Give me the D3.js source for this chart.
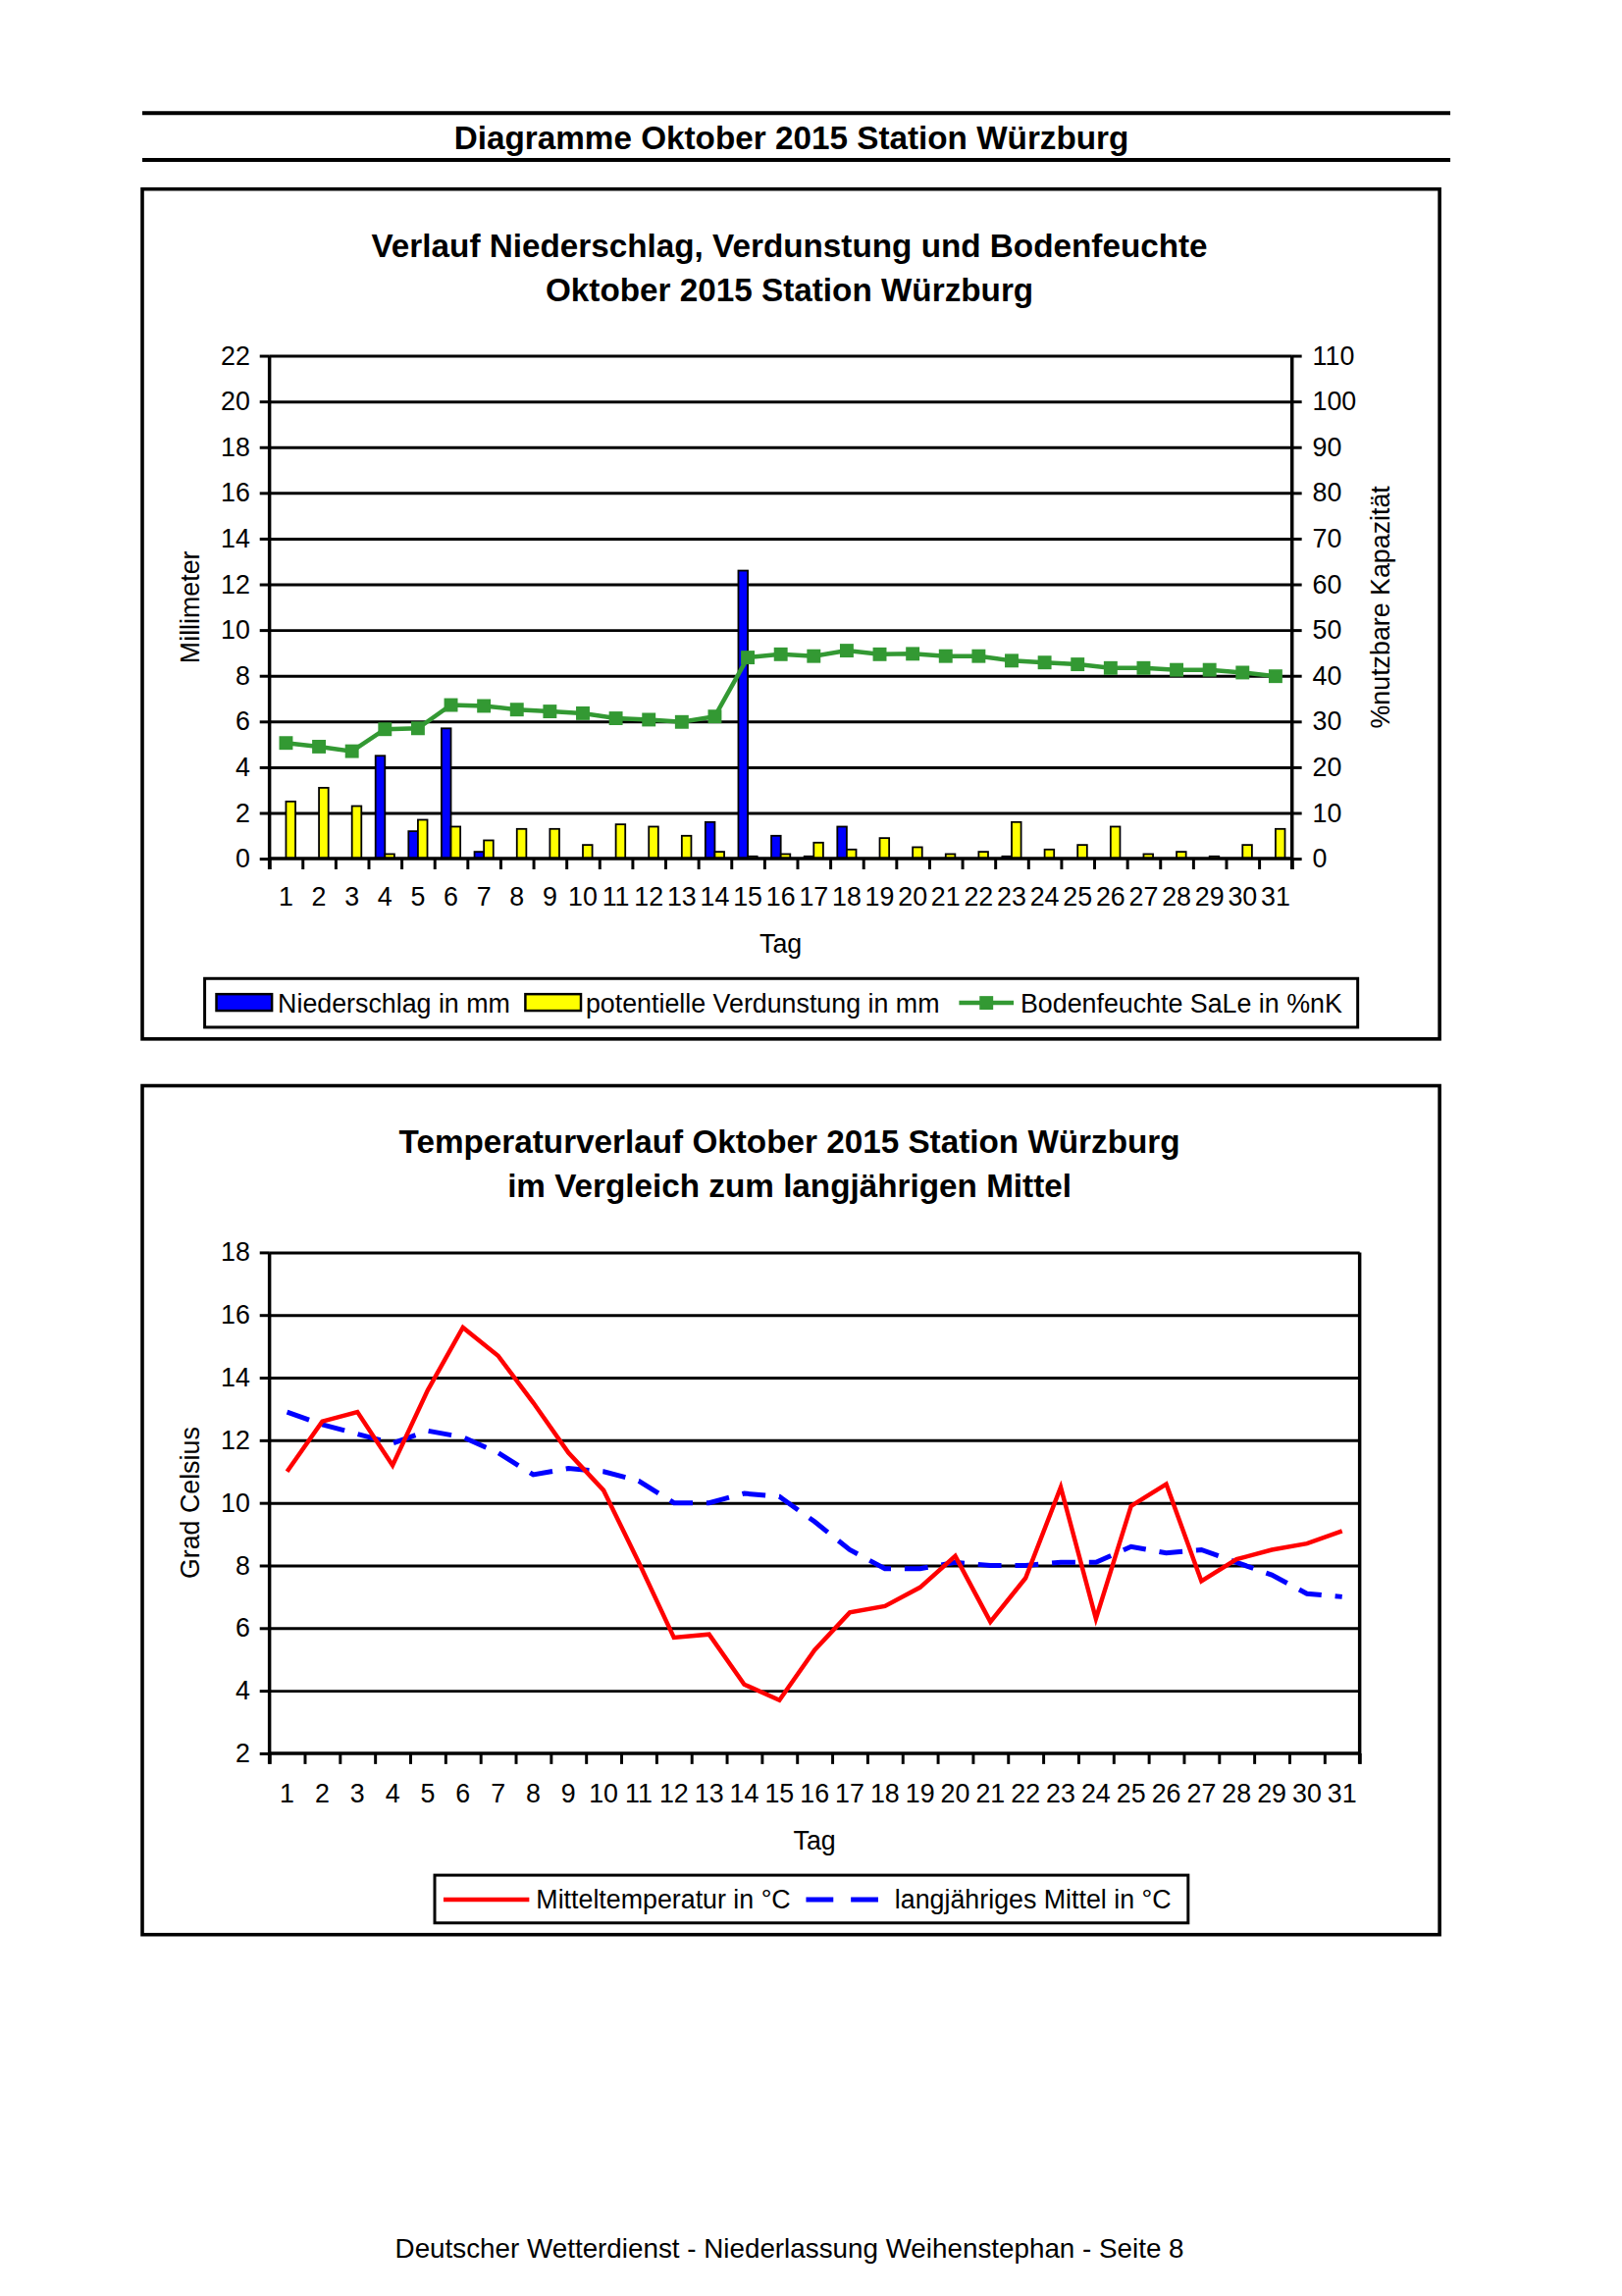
<!DOCTYPE html>
<html>
<head>
<meta charset="utf-8">
<script src="https://cdn.jsdelivr.net/npm/d3@7"></script>
<style>
  body { margin: 0; background: #fff; }
  svg { display: block; }
  text { font-family: "Liberation Sans", Arial, sans-serif; fill: #000; }
</style>
</head>
<body>
<div id="page"></div>
<script>
// Daten Oktober 2015, Station Würzburg
const days = [1,2,3,4,5,6,7,8,9,10,11,12,13,14,15,16,17,18,19,20,21,22,23,24,25,26,27,28,29,30,31];
const niederschlag = [0,0,0,4.5,1.2,5.7,0.3,0,0,0,0,0,0,1.6,12.6,1.0,0.1,1.4,0,0,0,0,0.1,0,0,0,0,0,0,0,0];
const verdunstung = [2.5,3.1,2.3,0.2,1.7,1.4,0.8,1.3,1.3,0.6,1.5,1.4,1.0,0.3,0.1,0.2,0.7,0.4,0.9,0.5,0.2,0.3,1.6,0.4,0.6,1.4,0.2,0.3,0.1,0.6,1.3];
const bodenfeuchte = [25.3,24.5,23.5,28.3,28.5,33.6,33.4,32.6,32.2,31.8,30.7,30.4,29.9,31.1,44.0,44.7,44.3,45.5,44.7,44.8,44.3,44.3,43.3,42.9,42.5,41.7,41.7,41.3,41.3,40.7,39.9];
const mitteltemp = [11.0,12.6,12.9,11.2,13.6,15.6,14.7,13.2,11.6,10.4,8.1,5.7,5.8,4.2,3.7,5.3,6.5,6.7,7.3,8.3,6.2,7.6,10.5,6.3,9.9,10.6,7.5,8.2,8.5,8.7,9.1];
const langMittel = [12.9,12.5,12.2,11.9,12.3,12.1,11.6,10.9,11.1,11.0,10.7,10.0,10.0,10.3,10.2,9.4,8.5,7.9,7.9,8.1,8.0,8.0,8.1,8.1,8.6,8.4,8.5,8.1,7.7,7.1,7.0];
const mmTicks = [0,2,4,6,8,10,12,14,16,18,20,22];
const pctTicks = [0,10,20,30,40,50,60,70,80,90,100,110];
const tempTicks = [2,4,6,8,10,12,14,16,18];

const W = 1653, H = 2340;
const FS = 27;
const TFS = 33.5;

const root = d3.select('#page').append('svg').attr('width', W).attr('height', H);
root.append('rect').attr('width', W).attr('height', H).attr('fill', '#fff');
// Seite leicht verkleinert, damit sie auf das Original passt
const svg = root.append('g').attr('transform', 'scale(0.9933)');

// Kopfzeile
svg.append('line').attr('x1', 146).attr('x2', 1488).attr('y1', 116).attr('y2', 116)
  .attr('stroke', '#000').attr('stroke-width', 4);
svg.append('line').attr('x1', 146).attr('x2', 1488).attr('y1', 164).attr('y2', 164)
  .attr('stroke', '#000').attr('stroke-width', 4);
svg.append('text').attr('x', 812).attr('y', 153).attr('text-anchor', 'middle')
  .attr('font-size', TFS).attr('font-weight', 'bold')
  .text('Diagramme Oktober 2015 Station Würzburg');

// Fußzeile
svg.append('text').attr('x', 810).attr('y', 2317).attr('text-anchor', 'middle')
  .attr('font-size', 28).text('Deutscher Wetterdienst - Niederlassung Weihenstephan - Seite 8');

const frame = (y0, y1) => {
  svg.append('rect').attr('x', 146).attr('y', y0).attr('width', 1477 - 146).attr('height', y1 - y0)
    .attr('fill', 'none').attr('stroke', '#000').attr('stroke-width', 3.6);
};

const title = (lines, y) => {
  lines.forEach((t, i) => {
    svg.append('text').attr('x', 810).attr('y', y + i * 45).attr('text-anchor', 'middle')
      .attr('font-size', TFS).attr('font-weight', 'bold').text(t);
  });
};

const styleAxis = (g, w) => {
  g.select('.domain').remove();
  g.selectAll('line').attr('stroke', '#000').attr('stroke-width', w);
  g.selectAll('text').attr('font-size', FS).attr('fill', '#000')
    .attr('font-family', '"Liberation Sans", Arial, sans-serif');
};

// ---------- Diagramm 1 ----------
frame(194, 1066);
title(['Verlauf Niederschlag, Verdunstung und Bodenfeuchte', 'Oktober 2015 Station Würzburg'], 264);

const p1 = { left: 276.5, right: 1325.6, top: 365, bottom: 881 };
const x1 = d3.scaleBand().domain(days).range([p1.left, p1.right]);
const x1lin = d3.scaleLinear().domain([0, days.length]).range([p1.left, p1.right]);
const yL = d3.scaleLinear().domain([0, 22]).range([p1.bottom, p1.top]);
const yR = d3.scaleLinear().domain([0, 110]).range([p1.bottom, p1.top]);
const c1 = svg.append('g');

// Gitternetz
c1.append('g').attr('transform', `translate(${p1.left},0)`)
  .call(d3.axisLeft(yL).tickValues(mmTicks.slice(1)).tickSize(-(p1.right - p1.left)).tickFormat(''))
  .call(g => styleAxis(g, 3));

// Balken
const bw = x1.bandwidth() / 3.5;
c1.append('g').selectAll('rect.n').data(days.filter((d, i) => niederschlag[i] > 0)).enter()
  .append('rect')
  .attr('x', d => x1(d) + x1.bandwidth() / 2 - bw)
  .attr('y', d => yL(niederschlag[d - 1]))
  .attr('width', bw)
  .attr('height', d => p1.bottom - yL(niederschlag[d - 1]))
  .attr('fill', '#0000ff').attr('stroke', '#000').attr('stroke-width', 1.8);
c1.append('g').selectAll('rect.v').data(days.filter((d, i) => verdunstung[i] > 0)).enter()
  .append('rect')
  .attr('x', d => x1(d) + x1.bandwidth() / 2)
  .attr('y', d => yL(verdunstung[d - 1]))
  .attr('width', bw)
  .attr('height', d => p1.bottom - yL(verdunstung[d - 1]))
  .attr('fill', '#ffff00').attr('stroke', '#000').attr('stroke-width', 1.8);

// Achsen
c1.append('g').attr('transform', `translate(${p1.left},0)`)
  .call(d3.axisLeft(yL).tickValues(mmTicks).tickSize(10).tickPadding(10))
  .call(g => styleAxis(g, 3));
c1.append('g').attr('transform', `translate(${p1.right},0)`)
  .call(d3.axisRight(yR).tickValues(pctTicks).tickSize(10).tickPadding(11))
  .call(g => styleAxis(g, 3));
c1.append('g').attr('transform', `translate(0,${p1.bottom})`)
  .call(d3.axisBottom(x1lin).tickValues(d3.range(0, days.length + 1)).tickSize(11).tickFormat(''))
  .call(g => styleAxis(g, 3));
c1.append('g').attr('transform', `translate(0,${p1.bottom})`)
  .call(d3.axisBottom(x1).tickSize(0).tickPadding(29))
  .call(g => styleAxis(g, 0));
c1.append('line').attr('x1', p1.left).attr('x2', p1.left).attr('y1', p1.top).attr('y2', p1.bottom + 11)
  .attr('stroke', '#000').attr('stroke-width', 3.5);
c1.append('line').attr('x1', p1.right).attr('x2', p1.right).attr('y1', p1.top).attr('y2', p1.bottom + 11)
  .attr('stroke', '#000').attr('stroke-width', 3.5);
c1.append('line').attr('x1', p1.left).attr('x2', p1.right).attr('y1', p1.bottom).attr('y2', p1.bottom)
  .attr('stroke', '#000').attr('stroke-width', 3.5);

// Bodenfeuchte
const line1 = d3.line().x(d => x1(d) + x1.bandwidth() / 2).y(d => yR(bodenfeuchte[d - 1]));
c1.append('path').datum(days).attr('d', line1).attr('fill', 'none')
  .attr('stroke', '#339933').attr('stroke-width', 4.5);
c1.append('g').selectAll('rect').data(days).enter().append('rect')
  .attr('x', d => x1(d) + x1.bandwidth() / 2 - 7)
  .attr('y', d => yR(bodenfeuchte[d - 1]) - 7)
  .attr('width', 14).attr('height', 14).attr('fill', '#339933');

// Achsentitel
c1.append('text').attr('transform', `translate(204,${(p1.top + p1.bottom) / 2}) rotate(-90)`)
  .attr('text-anchor', 'middle').attr('font-size', FS).text('Millimeter');
c1.append('text').attr('transform', `translate(1426,${(p1.top + p1.bottom) / 2}) rotate(-90)`)
  .attr('text-anchor', 'middle').attr('font-size', FS).text('%nutzbare Kapazität');
c1.append('text').attr('x', (p1.left + p1.right) / 2).attr('y', 978).attr('text-anchor', 'middle')
  .attr('font-size', FS).text('Tag');

// Legende 1
const lg1 = c1.append('g');
lg1.append('rect').attr('x', 210).attr('y', 1004).attr('width', 1393 - 210).attr('height', 50)
  .attr('fill', '#fff').attr('stroke', '#000').attr('stroke-width', 3);
lg1.append('rect').attr('x', 222).attr('y', 1020).attr('width', 57).attr('height', 17)
  .attr('fill', '#0000ff').attr('stroke', '#000').attr('stroke-width', 2.5);
lg1.append('text').attr('x', 285).attr('y', 1039).attr('font-size', FS).text('Niederschlag in mm');
lg1.append('rect').attr('x', 539).attr('y', 1020).attr('width', 57).attr('height', 17)
  .attr('fill', '#ffff00').attr('stroke', '#000').attr('stroke-width', 2.5);
lg1.append('text').attr('x', 601).attr('y', 1039).attr('font-size', FS).text('potentielle Verdunstung in mm');
lg1.append('line').attr('x1', 984).attr('x2', 1040).attr('y1', 1029).attr('y2', 1029)
  .attr('stroke', '#339933').attr('stroke-width', 4.5);
lg1.append('rect').attr('x', 1005).attr('y', 1022).attr('width', 14).attr('height', 14).attr('fill', '#339933');
lg1.append('text').attr('x', 1047).attr('y', 1039).attr('font-size', FS).text('Bodenfeuchte SaLe in %nK');

// ---------- Diagramm 2 ----------
frame(1114, 1985);
title(['Temperaturverlauf Oktober 2015 Station Würzburg', 'im Vergleich zum langjährigen Mittel'], 1183);

const p2 = { left: 276.5, right: 1395, top: 1285, bottom: 1799 };
const x2 = d3.scaleBand().domain(days).range([p2.left, p2.right]);
const x2lin = d3.scaleLinear().domain([0, days.length]).range([p2.left, p2.right]);
const yT = d3.scaleLinear().domain([2, 18]).range([p2.bottom, p2.top]);
const c2 = svg.append('g');

c2.append('g').attr('transform', `translate(${p2.left},0)`)
  .call(d3.axisLeft(yT).tickValues(tempTicks.slice(1)).tickSize(-(p2.right - p2.left)).tickFormat(''))
  .call(g => styleAxis(g, 3));
c2.append('g').attr('transform', `translate(${p2.left},0)`)
  .call(d3.axisLeft(yT).tickValues(tempTicks).tickSize(10).tickPadding(10))
  .call(g => styleAxis(g, 3));
c2.append('g').attr('transform', `translate(0,${p2.bottom})`)
  .call(d3.axisBottom(x2lin).tickValues(d3.range(0, days.length + 1)).tickSize(11).tickFormat(''))
  .call(g => styleAxis(g, 3));
c2.append('g').attr('transform', `translate(0,${p2.bottom})`)
  .call(d3.axisBottom(x2).tickSize(0).tickPadding(31))
  .call(g => styleAxis(g, 0));
c2.append('line').attr('x1', p2.left).attr('x2', p2.left).attr('y1', p2.top).attr('y2', p2.bottom + 11)
  .attr('stroke', '#000').attr('stroke-width', 3.5);
c2.append('line').attr('x1', p2.right).attr('x2', p2.right).attr('y1', p2.top).attr('y2', p2.bottom + 11)
  .attr('stroke', '#000').attr('stroke-width', 3.5);
c2.append('line').attr('x1', p2.left).attr('x2', p2.right).attr('y1', p2.bottom).attr('y2', p2.bottom)
  .attr('stroke', '#000').attr('stroke-width', 3.5);

const cx2 = d => x2(d) + x2.bandwidth() / 2;
c2.append('path').datum(days)
  .attr('d', d3.line().x(cx2).y(d => yT(langMittel[d - 1])))
  .attr('fill', 'none').attr('stroke', '#0000ff').attr('stroke-width', 5).attr('stroke-dasharray', '24 14');
c2.append('path').datum(days)
  .attr('d', d3.line().x(cx2).y(d => yT(mitteltemp[d - 1])))
  .attr('fill', 'none').attr('stroke', '#ff0000').attr('stroke-width', 4.5);

c2.append('text').attr('transform', `translate(204,${(p2.top + p2.bottom) / 2}) rotate(-90)`)
  .attr('text-anchor', 'middle').attr('font-size', FS).text('Grad Celsius');
c2.append('text').attr('x', (p2.left + p2.right) / 2).attr('y', 1898).attr('text-anchor', 'middle')
  .attr('font-size', FS).text('Tag');

// Legende 2
const lg2 = c2.append('g');
lg2.append('rect').attr('x', 446).attr('y', 1924).attr('width', 1219 - 446).attr('height', 49)
  .attr('fill', '#fff').attr('stroke', '#000').attr('stroke-width', 3);
lg2.append('line').attr('x1', 455).attr('x2', 543).attr('y1', 1949).attr('y2', 1949)
  .attr('stroke', '#ff0000').attr('stroke-width', 4.5);
lg2.append('text').attr('x', 550).attr('y', 1958).attr('font-size', FS).text('Mitteltemperatur in °C');
lg2.append('line').attr('x1', 827).attr('x2', 903).attr('y1', 1949).attr('y2', 1949)
  .attr('stroke', '#0000ff').attr('stroke-width', 5).attr('stroke-dasharray', '28 18');
lg2.append('text').attr('x', 918).attr('y', 1958).attr('font-size', FS).text('langjähriges Mittel in °C');
</script>
</body>
</html>
